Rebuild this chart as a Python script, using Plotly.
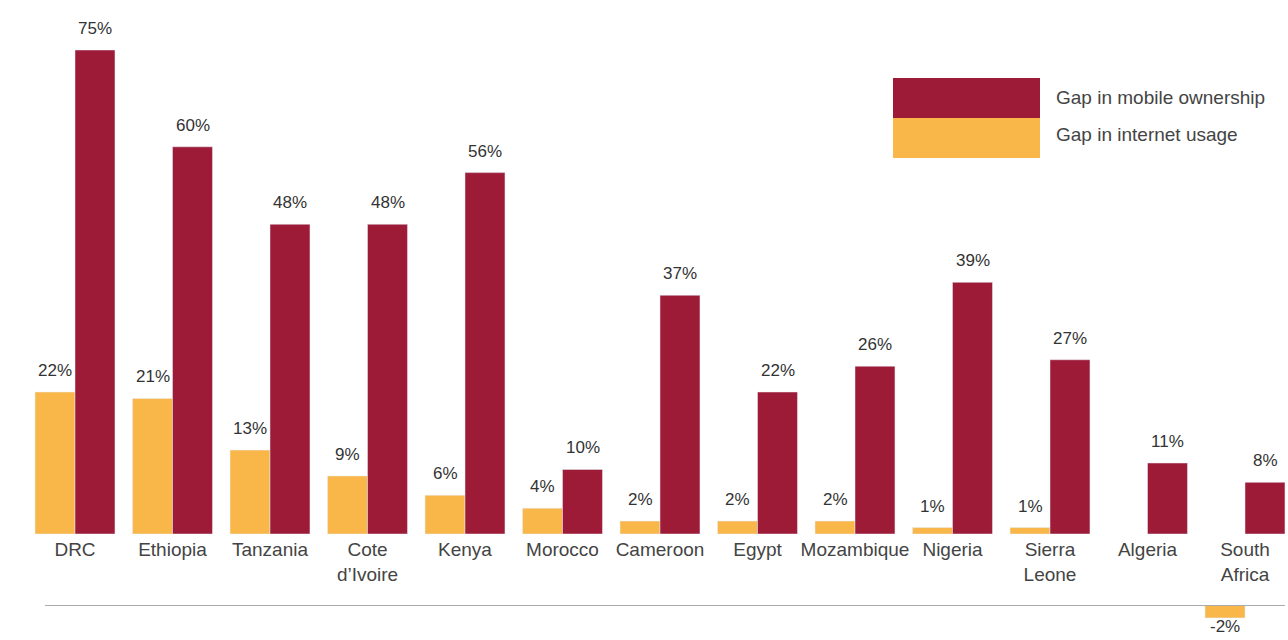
import plotly.graph_objects as go

countries = ["DRC", "Ethiopia", "Tanzania", "Cote<br>d’Ivoire", "Kenya", "Morocco",
             "Cameroon", "Egypt", "Mozambique", "Nigeria", "Sierra<br>Leone",
             "Algeria", "South<br>Africa"]
internet_gap = [22, 21, 13, 9, 6, 4, 2, 2, 2, 1, 1, 0, -2]
mobile_gap = [75, 60, 48, 48, 56, 10, 37, 22, 26, 39, 27, 11, 8]
series_names = ["Gap in mobile ownership", "Gap in internet usage"]

RED = "#9E1B38"
YELLOW = "#F9B74A"
FONT = "Liberation Sans, Arial, Helvetica, sans-serif"

W, H = 1288, 640
px_per_pct = (534 - 50) / 75.0
step = 97.5
x_lo = -75 / step
x_hi = (W - 75) / step

def pos(v):
    return [x if x is not None and x > 0 else None for x in v]

def neg(v):
    return [x if x is not None and x < 0 else None for x in v]

fig = go.Figure()
# top panel (positive values)
fig.add_trace(go.Bar(x=countries, y=pos(internet_gap), name=series_names[1],
                     marker_color=YELLOW, showlegend=False, xaxis="x", yaxis="y"))
fig.add_trace(go.Bar(x=countries, y=pos(mobile_gap), name=series_names[0],
                     marker_color=RED, showlegend=False, xaxis="x", yaxis="y"))
# bottom panel (negative values)
fig.add_trace(go.Bar(x=countries, y=neg(internet_gap), name=series_names[1],
                     marker_color=YELLOW, showlegend=False, xaxis="x2", yaxis="y2"))
fig.add_trace(go.Bar(x=countries, y=neg(mobile_gap), name=series_names[0],
                     marker_color=RED, showlegend=False, xaxis="x2", yaxis="y2"))

annotations = []
for i, c in enumerate(countries):
    for vals, shift in ((internet_gap, -20), (mobile_gap, 20)):
        v = vals[i]
        if v == 0:
            continue
        if v > 0:
            annotations.append(dict(x=c, y=v, xref="x", yref="y", text=f"{v}%",
                                    showarrow=False, yanchor="bottom", yshift=10,
                                    xshift=shift, font=dict(size=17, color="#333", family=FONT)))
        else:
            annotations.append(dict(x=c, y=v, xref="x2", yref="y2", text=f"{v}%",
                                    showarrow=False, yanchor="top", yshift=2, borderpad=0,
                                    xshift=shift, font=dict(size=17, color="#333", family=FONT)))

# legend entries
leg_x0, leg_x1 = 893 / W, 1040 / W
shapes = [
    dict(type="rect", xref="paper", yref="paper", x0=leg_x0, x1=leg_x1,
         y0=(H - 118) / H, y1=(H - 78) / H, fillcolor=RED, line_width=0),
    dict(type="rect", xref="paper", yref="paper", x0=leg_x0, x1=leg_x1,
         y0=(H - 158) / H, y1=(H - 118) / H, fillcolor=YELLOW, line_width=0),
    dict(type="line", xref="paper", yref="y2", x0=45 / W, x1=1285 / W, y0=0, y1=0,
         line=dict(color="#AAAAAA", width=2)),
]
annotations.append(dict(x=1054 / W, y=(H - 98) / H, xref="paper", yref="paper",
                        text=series_names[0], showarrow=False, xanchor="left", yanchor="middle",
                        font=dict(size=19, color="#444", family=FONT)))
annotations.append(dict(x=1054 / W, y=(H - 134) / H, xref="paper", yref="paper",
                        text=series_names[1], showarrow=False, xanchor="left", yanchor="middle",
                        font=dict(size=19, color="#444", family=FONT)))

fig.update_layout(
    width=W, height=H,
    margin=dict(l=0, r=0, t=0, b=0),
    paper_bgcolor="white", plot_bgcolor="white",
    barmode="group", bargap=0.18, bargroupgap=0,
    showlegend=False,
    font=dict(family=FONT, size=17, color="#444"),
    xaxis=dict(domain=[0, 1], range=[x_lo, x_hi], anchor="y", showgrid=False,
               zeroline=False, showline=False, ticks="", ticklabelstandoff=2,
               tickfont=dict(size=19, color="#444")),
    xaxis2=dict(domain=[0, 1], range=[x_lo, x_hi], anchor="y2", matches="x",
                showgrid=False, zeroline=False, showline=False, showticklabels=False, ticks=""),
    yaxis=dict(domain=[(H - 534) / H, 1], range=[0, 534 / px_per_pct], visible=False),
    yaxis2=dict(domain=[0, (H - 605) / H], range=[-(H - 605) / px_per_pct, 0], visible=False),
    shapes=shapes,
    annotations=annotations,
)

fig.write_html("out.html", config={"displayModeBar": False},
               post_script="document.body.style.margin='0';")
